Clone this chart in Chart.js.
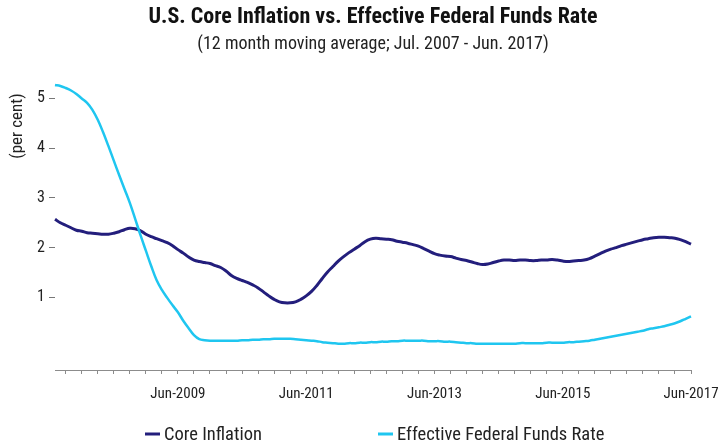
<!DOCTYPE html>
<html><head><meta charset="utf-8">
<script src="https://cdn.jsdelivr.net/npm/chart.js@4/dist/chart.umd.min.js"></script>
<style>html,body{margin:0;padding:0;background:#fff;}</style>
</head><body><canvas id="c" width="720" height="443"></canvas>
<script>
// Monthly categories, Jul-2007 .. Jun-2017
const monthNames = ['Jan','Feb','Mar','Apr','May','Jun','Jul','Aug','Sep','Oct','Nov','Dec'];
const categories = [];
for (let k = 0; k < 120; k++) {
  const m = (6 + k) % 12;
  const y = 2007 + Math.floor((6 + k) / 12);
  categories.push(monthNames[m] + '-' + y);
}

// Labelled x ticks and y ticks
const tickLabels = ['Jun-2009', 'Jun-2011', 'Jun-2013', 'Jun-2015', 'Jun-2017'];
const yTicks = [1, 2, 3, 4, 5];

// U.S. core inflation, 12 month moving average (per cent)
const coreInflation = [
  2.57, 2.50, 2.45, 2.40, 2.35, 2.33, 2.30, 2.29, 2.28, 2.27, 2.27, 2.29,
  2.32, 2.36, 2.39, 2.38, 2.34, 2.27, 2.22, 2.18, 2.14, 2.10, 2.04, 1.96,
  1.89, 1.81, 1.75, 1.72, 1.70, 1.68, 1.64, 1.60, 1.53, 1.44, 1.38, 1.34,
  1.30, 1.25, 1.19, 1.11, 1.03, 0.96, 0.91, 0.89, 0.89, 0.91, 0.96, 1.03,
  1.12, 1.24, 1.38, 1.51, 1.62, 1.73, 1.82, 1.90, 1.97, 2.04, 2.12, 2.17,
  2.19, 2.18, 2.17, 2.16, 2.13, 2.11, 2.09, 2.06, 2.03, 1.98, 1.93, 1.88,
  1.85, 1.83, 1.82, 1.79, 1.76, 1.74, 1.71, 1.68, 1.66, 1.67, 1.70, 1.73,
  1.75, 1.75, 1.74, 1.75, 1.75, 1.74, 1.74, 1.75, 1.75, 1.76, 1.75, 1.73,
  1.72, 1.73, 1.74, 1.75, 1.78, 1.83, 1.88, 1.93, 1.97, 2.00, 2.04, 2.07,
  2.10, 2.13, 2.16, 2.18, 2.20, 2.21, 2.21, 2.20, 2.19, 2.16, 2.12, 2.07
];

// Effective federal funds rate, 12 month moving average (per cent)
const fedFundsRate = [
  5.27, 5.25, 5.21, 5.16, 5.09, 5.00, 4.91, 4.77, 4.57, 4.32, 4.04, 3.75,
  3.46, 3.18, 2.90, 2.58, 2.25, 1.94, 1.63, 1.35, 1.15, 0.99, 0.84, 0.70,
  0.53, 0.38, 0.24, 0.16, 0.14, 0.13, 0.13, 0.13, 0.13, 0.13, 0.13, 0.14,
  0.14, 0.15, 0.15, 0.16, 0.16, 0.17, 0.17, 0.17, 0.17, 0.16, 0.15, 0.14,
  0.13, 0.12, 0.10, 0.09, 0.08, 0.07, 0.07, 0.08, 0.08, 0.09, 0.09, 0.10,
  0.10, 0.11, 0.11, 0.12, 0.12, 0.13, 0.13, 0.13, 0.13, 0.13, 0.12, 0.12,
  0.12, 0.11, 0.11, 0.10, 0.09, 0.08, 0.08, 0.07, 0.07, 0.07, 0.07, 0.07,
  0.07, 0.07, 0.07, 0.08, 0.08, 0.08, 0.08, 0.08, 0.09, 0.09, 0.09, 0.09,
  0.10, 0.10, 0.11, 0.12, 0.13, 0.15, 0.17, 0.19, 0.21, 0.23, 0.25, 0.27,
  0.29, 0.31, 0.33, 0.36, 0.38, 0.40, 0.42, 0.45, 0.48, 0.52, 0.57, 0.62
];

const FONT = '"Roboto Condensed", "Liberation Sans", Arial, sans-serif';
const NAVY = '#231e7c';
const CYAN = '#1fc6f0';
const AXIS_GREY = '#8c8c8c';

// Legend entries and the rotated y-axis caption, drawn onto the canvas
const captions = {
  id: 'captions',
  afterDraw(chart) {
    const ctx = chart.ctx;
    ctx.save();
    ctx.fillStyle = '#222';
    ctx.font = '17px ' + FONT;
    ctx.textAlign = 'center';
    ctx.textBaseline = 'middle';
    ctx.translate(18, 126);
    ctx.rotate(-Math.PI / 2);
    ctx.fillText('(per cent)', 0, 0);
    ctx.restore();

    const entries = [
      { ds: chart.data.datasets[0], x: 145 },
      { ds: chart.data.datasets[1], x: 378 }
    ];
    ctx.save();
    ctx.font = '18.5px ' + FONT;
    ctx.textBaseline = 'middle';
    ctx.textAlign = 'left';
    const y = 434;
    entries.forEach(e => {
      ctx.strokeStyle = e.ds.borderColor;
      ctx.lineWidth = 3;
      ctx.beginPath();
      ctx.moveTo(e.x, y);
      ctx.lineTo(e.x + 15, y);
      ctx.stroke();
      ctx.fillStyle = '#222';
      ctx.fillText(e.ds.label, e.x + 19, y + 1);
    });
    ctx.restore();
  }
};

new Chart(document.getElementById('c'), {
  type: 'line',
  data: {
    labels: categories,
    datasets: [
      {
        label: 'Core Inflation',
        data: coreInflation,
        borderColor: NAVY,
        borderWidth: 3,
        pointRadius: 0,
        tension: 0.4,
        order: 1,
        clip: 6
      },
      {
        label: 'Effective Federal Funds Rate',
        data: fedFundsRate,
        borderColor: CYAN,
        borderWidth: 2.5,
        pointRadius: 0,
        tension: 0.4,
        order: 0,
        clip: 6
      }
    ]
  },
  options: {
    responsive: false,
    animation: false,
    layout: { padding: { left: 26, right: 0, top: 0, bottom: 29 } },
    plugins: {
      legend: { display: false },
      tooltip: { enabled: false },
      title: {
        display: true,
        text: 'U.S. Core Inflation vs. Effective Federal Funds Rate',
        color: '#111',
        font: { family: FONT, size: 22, weight: 'bold' },
        padding: { top: 4, bottom: 0 }
      },
      subtitle: {
        display: true,
        text: '(12 month moving average; Jul. 2007 - Jun. 2017)',
        color: '#222',
        font: { family: FONT, size: 18 },
        padding: { top: 3, bottom: 29.5 }
      }
    },
    scales: {
      x: {
        type: 'category',
        offset: false,
        afterFit: scale => { scale.paddingRight = 29; },
        border: { display: true, color: AXIS_GREY, width: 1 },
        grid: {
          drawOnChartArea: false,
          drawTicks: true,
          tickLength: 4,
          tickColor: ctx => (ctx.index % 3 === 2 ? AXIS_GREY : 'rgba(0,0,0,0)')
        },
        ticks: {
          autoSkip: false,
          maxRotation: 0,
          minRotation: 0,
          padding: 11,
          color: '#222',
          font: { family: FONT, size: 15 },
          callback: (value, index) => (tickLabels.includes(categories[index]) ? categories[index] : '')
        }
      },
      y: {
        min: -0.46,
        max: 5.28,
        afterBuildTicks: scale => { scale.ticks = yTicks.map(v => ({ value: v })); },
        afterFit: scale => { scale.width = 29; },
        border: { display: false },
        grid: { drawOnChartArea: false, drawTicks: true, tickLength: 6, tickColor: '#777' },
        ticks: {
          padding: 4,
          color: '#222',
          font: { family: FONT, size: 16 }
        }
      }
    }
  },
  plugins: [captions]
});
</script>
</body></html>
